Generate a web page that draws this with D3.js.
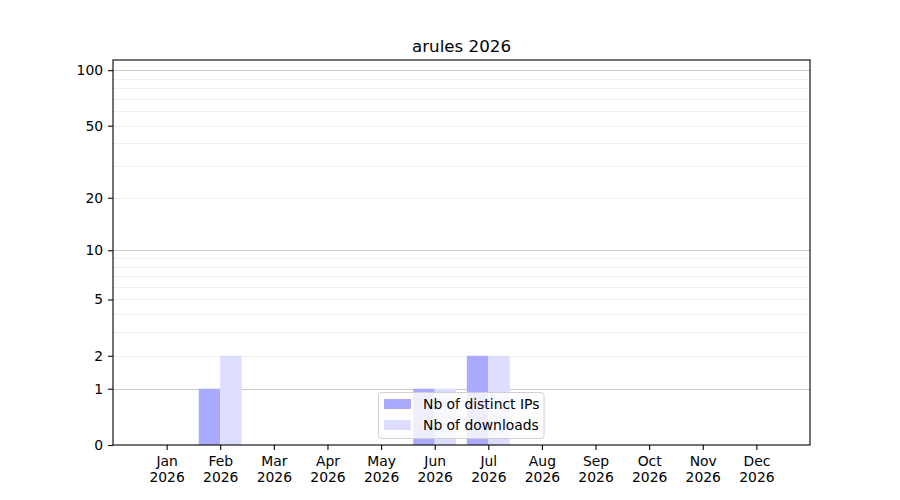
<!DOCTYPE html>
<html>
<head>
<meta charset="utf-8">
<script src="https://cdn.jsdelivr.net/npm/d3@7"></script>
<style>
  body { margin: 0; background: #fff; }
  text { font-family: "DejaVu Sans", sans-serif; }
</style>
</head>
<body>
<div id="chart"></div>
<script>
const width = 900;
const height = 500;

const months = ["Jan", "Feb", "Mar", "Apr", "May", "Jun", "Jul", "Aug", "Sep", "Oct", "Nov", "Dec"];
const year = "2026";
const distinctIPs = [0, 1, 0, 0, 0, 1, 2, 0, 0, 0, 0, 0];
const downloads = [0, 2, 0, 0, 0, 1, 2, 0, 0, 0, 0, 0];
const yTicks = [0, 1, 2, 5, 10, 20, 50, 100];
const majorGrid = [1, 10, 100];
const minorGrid = [2, 3, 4, 5, 6, 7, 8, 9, 20, 30, 40, 50, 60, 70, 80, 90];

const margin = {top: 60, right: 90, bottom: 55, left: 113};
const innerW = width - margin.left - margin.right;
const innerH = height - margin.top - margin.bottom;

const svg = d3.select("#chart")
    .append("svg")
    .attr("width", width)
    .attr("height", height);

const g = svg.append("g")
    .attr("transform", `translate(${margin.left},${margin.top})`);

// x: month index, one spare slot on each side
const x = d3.scaleLinear().domain([-1, 12]).range([0, innerW]);
// y: log10(v + 1), same shape as symlog with constant 1
const y = d3.scaleSymlog().constant(1).domain([0, 113.5]).range([innerH, 0]);

const barW = x(0.4) - x(0);

// grid
g.append("g")
    .selectAll("line")
    .data(minorGrid)
    .join("line")
    .attr("x1", 0).attr("x2", innerW)
    .attr("y1", d => Math.round(y(d)) + 0.5)
    .attr("y2", d => Math.round(y(d)) + 0.5)
    .attr("stroke", "#ebebeb")
    .attr("stroke-width", 0.8);

g.append("g")
    .selectAll("line")
    .data(majorGrid)
    .join("line")
    .attr("x1", 0).attr("x2", innerW)
    .attr("y1", d => Math.round(y(d)) + 0.5)
    .attr("y2", d => Math.round(y(d)) + 0.5)
    .attr("stroke", "#c8c8c8")
    .attr("stroke-width", 1);

// bars
g.append("g")
    .selectAll("rect")
    .data(distinctIPs)
    .join("rect")
    .attr("x", (d, i) => x(i) - barW)
    .attr("width", barW)
    .attr("y", d => y(d))
    .attr("height", d => innerH - y(d))
    .attr("fill", "#aaaaff");

g.append("g")
    .selectAll("rect")
    .data(downloads)
    .join("rect")
    .attr("x", (d, i) => x(i))
    .attr("width", barW)
    .attr("y", d => y(d))
    .attr("height", d => innerH - y(d))
    .attr("fill", "#ddddff");

// axes
const yAxis = g.append("g")
    .call(d3.axisLeft(y).tickValues(yTicks).tickFormat(d3.format("d")).tickSize(4.9).tickPadding(5));

const xAxis = g.append("g")
    .attr("transform", `translate(0,${innerH})`)
    .call(d3.axisBottom(x).tickValues(d3.range(12)).tickFormat(() => "").tickSize(4.9));

xAxis.selectAll(".tick").append("text")
    .attr("fill", "#000")
    .attr("text-anchor", "middle")
    .attr("font-size", "13.9px")
    .selectAll("tspan")
    .data(i => [months[i], year])
    .join("tspan")
    .attr("x", 0)
    .attr("y", (d, k) => 21 + k * 16)
    .text(d => d);

[yAxis, xAxis].forEach(a => {
    a.select(".domain").remove();
    a.selectAll(".tick line").attr("stroke", "#000").attr("stroke-width", 1.1);
});
yAxis.selectAll(".tick text").attr("font-size", "13.9px").attr("fill", "#000");

// frame
g.append("rect")
    .attr("width", innerW)
    .attr("height", innerH)
    .attr("fill", "none")
    .attr("stroke", "#000")
    .attr("stroke-width", 1.1);

// title
svg.append("text")
    .attr("x", margin.left + innerW / 2)
    .attr("y", 52)
    .attr("text-anchor", "middle")
    .attr("font-size", "16.7px")
    .text("arules 2026");

// legend
const legend = svg.append("g").attr("transform", "translate(378.5,392.5)");
legend.append("rect")
    .attr("width", 165.5)
    .attr("height", 46)
    .attr("rx", 3)
    .attr("fill", "#fff")
    .attr("fill-opacity", 0.8)
    .attr("stroke", "#d0d0d0");

const legendItems = [
    {label: "Nb of distinct IPs", color: "#aaaaff"},
    {label: "Nb of downloads", color: "#ddddff"}
];
legendItems.forEach((item, i) => {
    legend.append("rect")
        .attr("x", 5.5)
        .attr("y", 6.5 + i * 21)
        .attr("width", 27)
        .attr("height", 10)
        .attr("fill", item.color);
    legend.append("text")
        .attr("x", 44.5)
        .attr("y", 16.5 + i * 21)
        .attr("font-size", "13.9px")
        .text(item.label);
});
</script>
</body>
</html>
